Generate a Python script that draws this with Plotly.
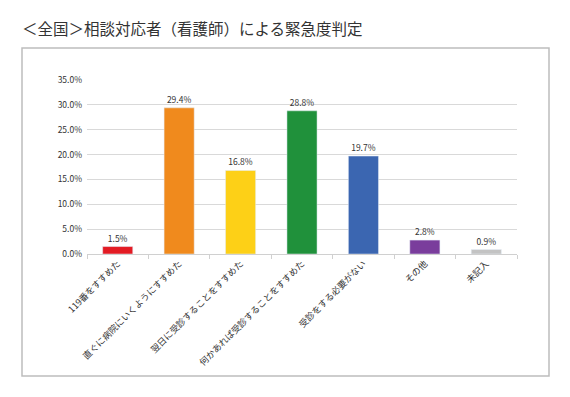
import plotly.graph_objects as go

categories = ["119番をすすめた", "直ぐに病院にいくようにすすめた", "翌日に受診することをすすめた",
              "何かあれば受診することをすすめた", "受診をする必要がない", "その他", "未記入"]
values = [1.5, 29.4, 16.8, 28.8, 19.7, 2.8, 0.9]
colors = ["#e31b23", "#f08a1d", "#fdd017", "#20913b", "#3b66b1", "#7a3d9c", "#c3c3c3"]
y_ticks = [0, 5, 10, 15, 20, 25, 30, 35]
y_tick_labels = ["0.0%", "5.0%", "10.0%", "15.0%", "20.0%", "25.0%", "30.0%", "35.0%"]
title_text = "＜全国＞相談対応者（看護師）による緊急度判定"

W, H = 570, 397
L, R, T, B = 87, 53, 80, 143

fig = go.Figure(go.Bar(
    x=categories, y=values, marker_color=colors,
    text=[f"{v:.1f}%" for v in values], textposition="outside",
    textfont=dict(size=8.5, color="#333333"), cliponaxis=False,
))

fig.update_layout(
    width=W, height=H,
    margin=dict(l=L, r=R, t=T, b=B),
    paper_bgcolor="white", plot_bgcolor="white",
    font=dict(family="Noto Sans CJK JP", color="#333333"),
    bargap=0.51,
    showlegend=False,
    title=dict(text=title_text, x=22 / W, xanchor="left", y=1 - 30 / H, yanchor="middle",
               font=dict(size=15.5, color="#333333")),
    xaxis=dict(tickangle=-45, tickfont=dict(size=9, color="#333333"),
               showline=True, linecolor="#d0d0d0", linewidth=1,
               ticks="outside", tickson="boundaries", ticklen=4, tickcolor="#d0d0d0",
               showgrid=False),
    yaxis=dict(range=[0, 35], tickmode="array", tickvals=y_ticks, ticktext=y_tick_labels,
               tickfont=dict(size=8.5, color="#333333"), ticklabelstandoff=4,
               showgrid=True, gridcolor="#d9d9d9", gridwidth=1, zeroline=False,
               ticks=""),
    shapes=[dict(type="rect", xref="paper", yref="paper",
                 x0=(22 - L) / (W - L - R), x1=(549 - L) / (W - L - R),
                 y0=(H - B - 376) / (H - T - B), y1=(H - B - 48) / (H - T - B),
                 line=dict(color="#bdbdbd", width=1.5), fillcolor="rgba(0,0,0,0)", layer="below")],
)

fig.write_html("out.html")
